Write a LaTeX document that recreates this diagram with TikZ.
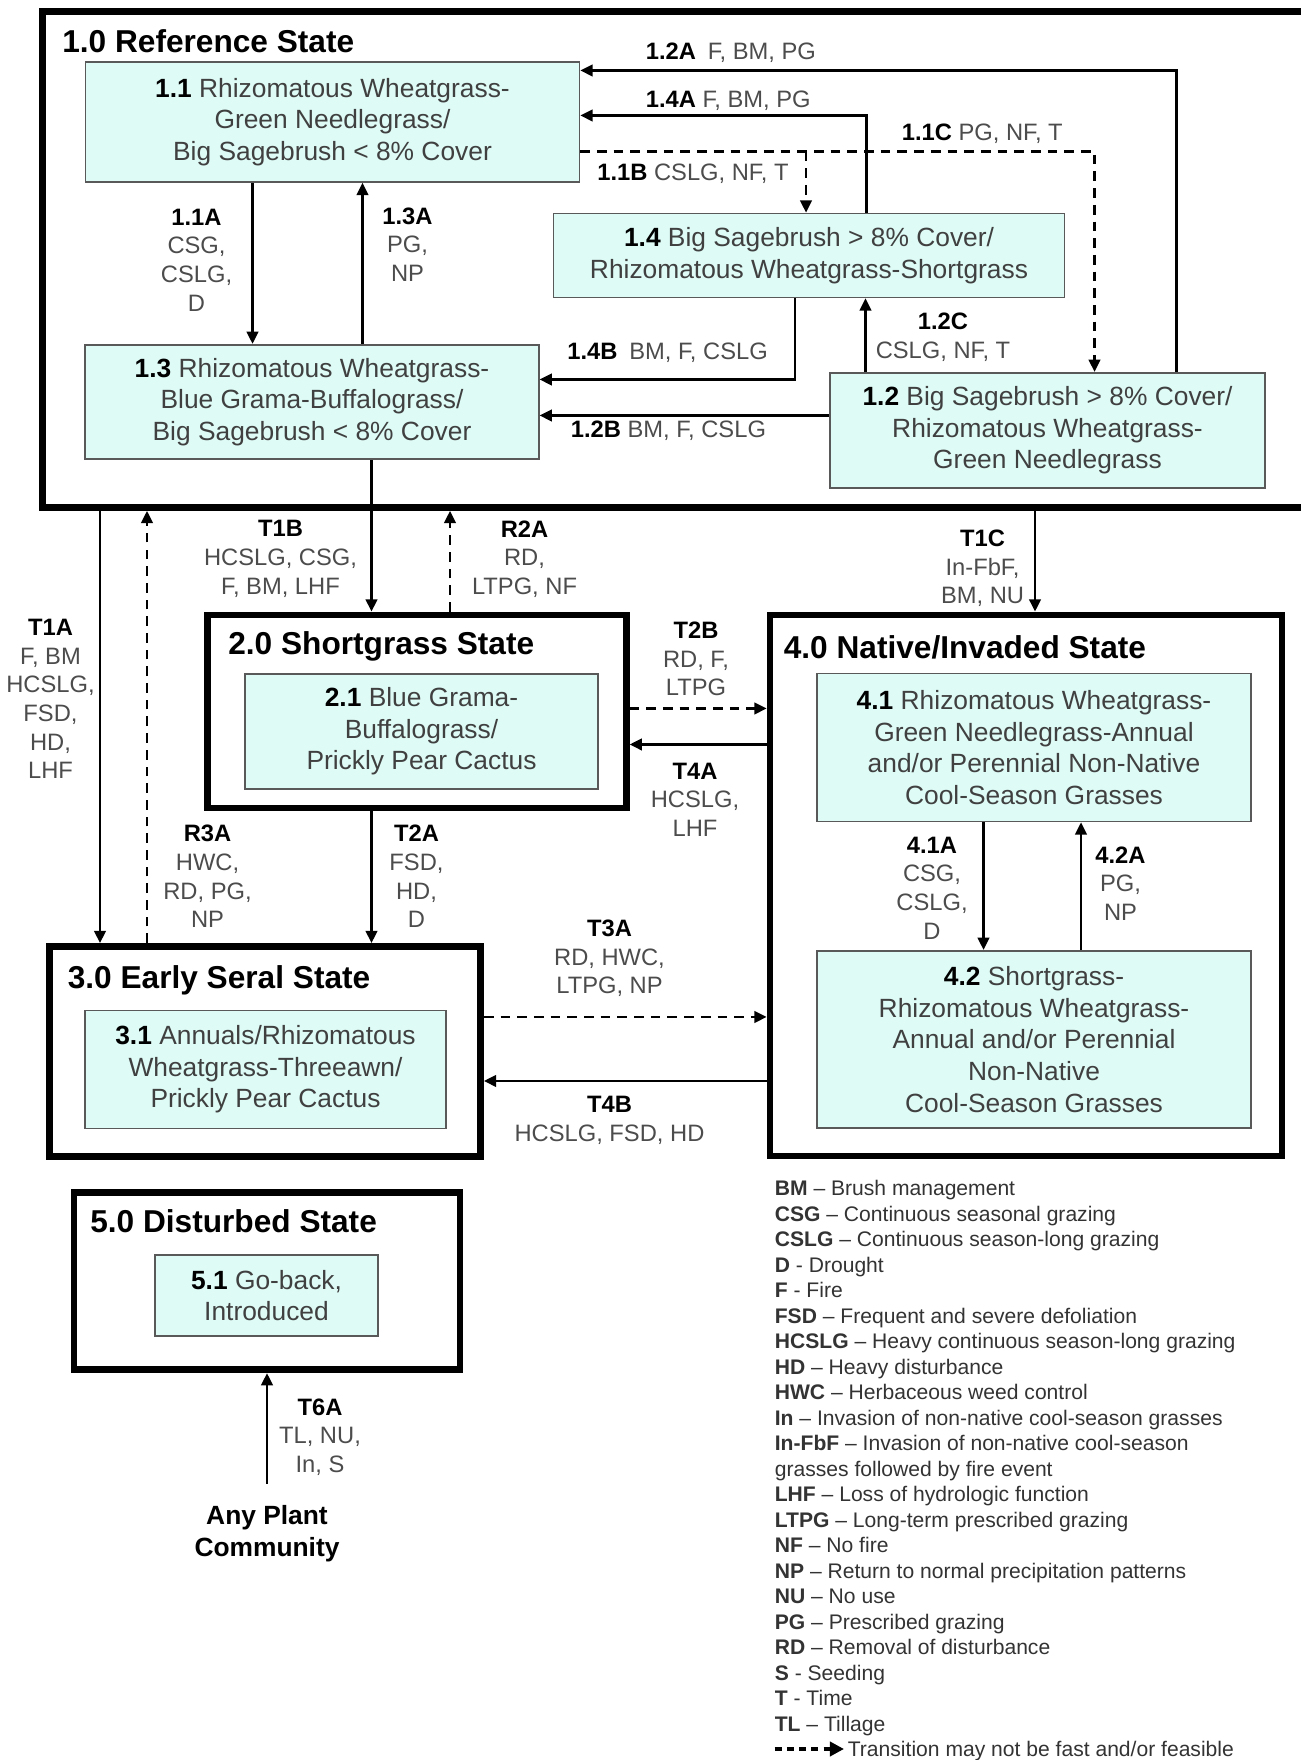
\documentclass[tikz,border=0pt]{standalone}
\usepackage{fontspec}
\setmainfont{Liberation Sans}
\usepackage{tikz}
\usetikzlibrary{arrows.meta, positioning}
\definecolor{commfill}{RGB}{222,251,246}
\newcommand{\tid}[1]{\textcolor{black}{\bfseries #1}}
\tikzset{
  state_box/.style={rectangle, draw=black, line width=3.8pt, inner sep=0pt},
  state_title/.style={anchor=west, inner sep=0pt, font=\fontsize{18}{21}\selectfont\bfseries},
  comm_box/.style={rectangle, draw=black!65, fill=commfill, line width=0.9pt, inner sep=0pt, align=center, text=black!75, font=\fontsize{15}{18}\selectfont},
  trans_label/.style={align=center, text=black!70, font=\fontsize{13.5}{16.3}\selectfont},
  side_label/.style={trans_label, anchor=west, inner sep=0pt},
  legend_text/.style={anchor=base west, inner sep=0pt, text=black!80, font=\fontsize{12}{14.5}\selectfont},
  plant_text/.style={align=center, inner sep=12pt, font=\fontsize{15}{18.5}\selectfont\bfseries},
  arrow/.style={-{Triangle[length=7pt, width=6.5pt]}, line width=1.5pt, black},
  dash_arrow/.style={arrow, dash pattern=on 5.5pt off 4pt}
}

\begin{document}
\begin{tikzpicture}
  \useasboundingbox (0,0) rectangle (26,35.2);

  % State boxes
  \node[state_box, minimum width=25.30cm, minimum height=9.92cm] (s1) at (13.50,30.01) {};
  \node[state_box, minimum width=8.37cm, minimum height=3.86cm] (s2) at (8.34,20.97) {};
  \node[state_box, minimum width=8.62cm, minimum height=4.20cm] (s3) at (5.30,14.17) {};
  \node[state_box, minimum width=10.24cm, minimum height=10.82cm] (s4) at (20.52,17.49) {};
  \node[state_box, minimum width=7.72cm, minimum height=3.55cm] (s5) at (5.34,9.58) {};

  \node[state_title] (t1) at (1.24,34.37) {1.0 Reference State};
  \node[state_title] (t2) at (4.56,22.27) {2.0 Shortgrass State};
  \node[state_title] (t3) at (1.35,15.60) {3.0 Early Seral State};
  \node[state_title] (t4) at (15.67,22.25) {4.0 Native/Invaded State};
  \node[state_title] (t5) at (1.80,10.77) {5.0 Disturbed State};

  % Plant community boxes
  \node[comm_box, minimum width=9.88cm, minimum height=2.40cm] (b11) at (6.65,32.76)
    {\tid{1.1} Rhizomatous Wheatgrass-\\Green Needlegrass/\\Big Sagebrush < 8\% Cover};
  \node[comm_box, minimum width=9.07cm, minimum height=2.29cm] (b13) at (6.24,27.16)
    {\tid{1.3} Rhizomatous Wheatgrass-\\Blue Grama-Buffalograss/\\Big Sagebrush < 8\% Cover};
  \node[comm_box, minimum width=10.22cm, minimum height=1.68cm] (b14) at (16.18,30.09)
    {\tid{1.4} Big Sagebrush > 8\% Cover/\\Rhizomatous Wheatgrass-Shortgrass};
  \node[comm_box, minimum width=8.71cm, minimum height=2.31cm] (b12) at (20.95,26.59)
    {\tid{1.2} Big Sagebrush > 8\% Cover/\\Rhizomatous Wheatgrass-\\Green Needlegrass};
  \node[comm_box, minimum width=7.07cm, minimum height=2.31cm] (b21) at (8.43,20.57)
    {\tid{2.1} Blue Grama-\\Buffalograss/\\Prickly Pear Cactus};
  \node[comm_box, minimum width=7.21cm, minimum height=2.36cm] (b31) at (5.31,13.81)
    {\tid{3.1} Annuals/Rhizomatous\\Wheatgrass-Threeawn/\\Prickly Pear Cactus};
  \node[comm_box, minimum width=8.67cm, minimum height=2.96cm] (b41) at (20.68,20.25)
    {\tid{4.1} Rhizomatous Wheatgrass-\\Green Needlegrass-Annual\\and/or Perennial Non-Native\\Cool-Season Grasses};
  \node[comm_box, minimum width=8.67cm, minimum height=3.55cm] (b42) at (20.68,14.41)
    {\tid{4.2} Shortgrass-\\Rhizomatous Wheatgrass-\\Annual and/or Perennial\\Non-Native\\Cool-Season Grasses};
  \node[comm_box, minimum width=4.47cm, minimum height=1.62cm] (b51) at (5.33,9.29)
    {\tid{5.1} Go-back,\\Introduced};

  \node[plant_text] (apc) at (5.34,4.53) {Any Plant\\Community};

  % Bend points of the connectors
  \coordinate (k12a) at (23.53,33.79);
  \coordinate (k14a) at (17.33,32.89);
  \coordinate (k11c) at (21.89,32.17);
  \coordinate (k11b) at (16.12,32.17);
  \coordinate (k11a) at (5.05,30.00);
  \coordinate (k13a) at (7.25,30.00);
  \coordinate (k14b) at (15.90,27.61);
  \coordinate (k12b) at (14.00,26.89);
  \coordinate (k12c) at (17.31,28.50);
  \coordinate (kt1a) at (2.00,20.00);
  \coordinate (kr3a) at (2.94,20.00);
  \coordinate (kt1b) at (7.43,24.00);
  \coordinate (kr2a) at (9.00,24.00);
  \coordinate (kt1c) at (20.70,24.00);
  \coordinate (kt2b) at (14.00,21.03);
  \coordinate (kt4a) at (14.00,20.31);
  \coordinate (kt3a) at (12.00,14.86);
  \coordinate (kt4b) at (12.00,13.58);
  \coordinate (k41a) at (19.67,17.50);
  \coordinate (k42a) at (21.62,17.50);

  % Reference state transitions
  \draw[arrow] (b12.north -| k12a) |- (b11.east |- k12a);
  \draw[arrow] (b14.north -| k14a) |- (b11.east |- k14a);
  \draw[dash_arrow] (b11.east |- k11c) -| (b12.north -| k11c);
  \draw[dash_arrow] (k11b) -- (b14.north -| k11b);
  \draw[arrow] (b11.south -| k11a) -- (b13.north -| k11a);
  \draw[arrow] (b13.north -| k13a) -- (b11.south -| k13a);
  \draw[arrow] (b14.south -| k14b) |- (b13.east |- k14b);
  \draw[arrow] (b12.west |- k12b) -- (b13.east |- k12b);
  \draw[arrow] (b12.north -| k12c) -- (b14.south -| k12c);

  \node[side_label] (l12a) at (12.91,34.15) {\tid{1.2A}\enspace F, BM, PG};
  \node[side_label] (l14a) at (12.91,33.18) {\tid{1.4A} F, BM, PG};
  \node[side_label] (l11c) at (18.03,32.53) {\tid{1.1C} PG, NF, T};
  \node[side_label] (l11b) at (11.94,31.72) {\tid{1.1B} CSLG, NF, T};
  \node[side_label] (l14b) at (11.34,28.15) {\tid{1.4B}\enspace BM, F, CSLG};
  \node[side_label] (l12b) at (11.41,26.58) {\tid{1.2B} BM, F, CSLG};
  \node[trans_label] (l11a) at (3.93,30.00) {\tid{1.1A}\\CSG,\\CSLG,\\D};
  \node[trans_label] (l13a) at (8.15,30.31) {\tid{1.3A}\\PG,\\NP};
  \node[trans_label] (l12c) at (18.86,28.46) {\tid{1.2C}\\CSLG, NF, T};

  % Transitions between states
  \draw[arrow] (s1.south -| kt1a) -- (s3.north -| kt1a);
  \draw[dash_arrow] (s3.north -| kr3a) -- (s1.south -| kr3a);
  \draw[arrow] (b13.south -| kt1b) -- (s2.north -| kt1b);
  \draw[dash_arrow] (s2.north -| kr2a) -- (s1.south -| kr2a);
  \draw[arrow] (s1.south -| kt1c) -- (s4.north -| kt1c);
  \draw[dash_arrow] (s2.east |- kt2b) -- (s4.west |- kt2b);
  \draw[arrow] (s4.west |- kt4a) -- (s2.east |- kt4a);
  \draw[arrow] (s2.south -| kt1b) -- (s3.north -| kt1b);
  \draw[dash_arrow] (s3.east |- kt3a) -- (s4.west |- kt3a);
  \draw[arrow] (s4.west |- kt4b) -- (s3.east |- kt4b);
  \draw[arrow] (b41.south -| k41a) -- (b42.north -| k41a);
  \draw[arrow] (b42.north -| k42a) -- (b41.south -| k42a);
  \draw[arrow] (apc.north) -- (s5.south);

  \node[trans_label] (lt1a) at (1.01,21.22) {\tid{T1A}\\F, BM\\HCSLG,\\FSD,\\HD,\\LHF};
  \node[trans_label] (lr3a) at (4.15,17.67) {\tid{R3A}\\HWC,\\RD, PG,\\NP};
  \node[trans_label] (lt1b) at (5.61,24.02) {\tid{T1B}\\HCSLG, CSG,\\F, BM, LHF};
  \node[trans_label] (lr2a) at (10.49,24.02) {\tid{R2A}\\RD,\\LTPG, NF};
  \node[trans_label] (lt1c) at (19.65,23.83) {\tid{T1C}\\In-FbF,\\BM, NU};
  \node[trans_label] (lt2b) at (13.92,22.02) {\tid{T2B}\\RD, F,\\LTPG};
  \node[trans_label] (lt4a) at (13.90,19.21) {\tid{T4A}\\HCSLG,\\LHF};
  \node[trans_label] (lt2a) at (8.33,17.67) {\tid{T2A}\\FSD,\\HD,\\D};
  \node[trans_label] (lt3a) at (12.19,16.03) {\tid{T3A}\\RD, HWC,\\LTPG, NP};
  \node[trans_label] (lt4b) at (12.19,12.79) {\tid{T4B}\\HCSLG, FSD, HD};
  \node[trans_label] (l41a) at (18.64,17.44) {\tid{4.1A}\\CSG,\\CSLG,\\D};
  \node[trans_label] (l42a) at (22.41,17.53) {\tid{4.2A}\\PG,\\NP};
  \node[trans_label] (lt6a) at (6.40,6.46) {\tid{T6A}\\TL, NU,\\In, S};

  % Legend
  \foreach \entry [count=\i] in {
    {\textbf{BM} -- Brush management},
    {\textbf{CSG} -- Continuous seasonal grazing},
    {\textbf{CSLG} -- Continuous season-long grazing},
    {\textbf{D} - Drought},
    {\textbf{F} - Fire},
    {\textbf{FSD} -- Frequent and severe defoliation},
    {\textbf{HCSLG} -- Heavy continuous season-long grazing},
    {\textbf{HD} -- Heavy disturbance},
    {\textbf{HWC} -- Herbaceous weed control},
    {\textbf{In} -- Invasion of non-native cool-season grasses},
    {\textbf{In-FbF} -- Invasion of non-native cool-season},
    {grasses followed by fire event},
    {\textbf{LHF} -- Loss of hydrologic function},
    {\textbf{LTPG} -- Long-term prescribed grazing},
    {\textbf{NF} -- No fire},
    {\textbf{NP} -- Return to normal precipitation patterns},
    {\textbf{NU} -- No use},
    {\textbf{PG} -- Prescribed grazing},
    {\textbf{RD} -- Removal of disturbance},
    {\textbf{S} - Seeding},
    {\textbf{T} - Time},
    {\textbf{TL} -- Tillage}}
    \node[legend_text] (leg\i) at (15.49,{11.80-0.5103*\i}) {\entry};

  \coordinate (legk) at (15.49,0.22);
  \node[legend_text] (legnote) at (16.95,0.07) {Transition may not be fast and/or feasible};
  \draw[dash_arrow, line width=2pt, dash pattern=on 4pt off 3pt, shorten >=2pt,
        -{Triangle[length=8pt, width=8pt]}] (legk) -- (legnote.west |- legk);

\end{tikzpicture}
\end{document}
